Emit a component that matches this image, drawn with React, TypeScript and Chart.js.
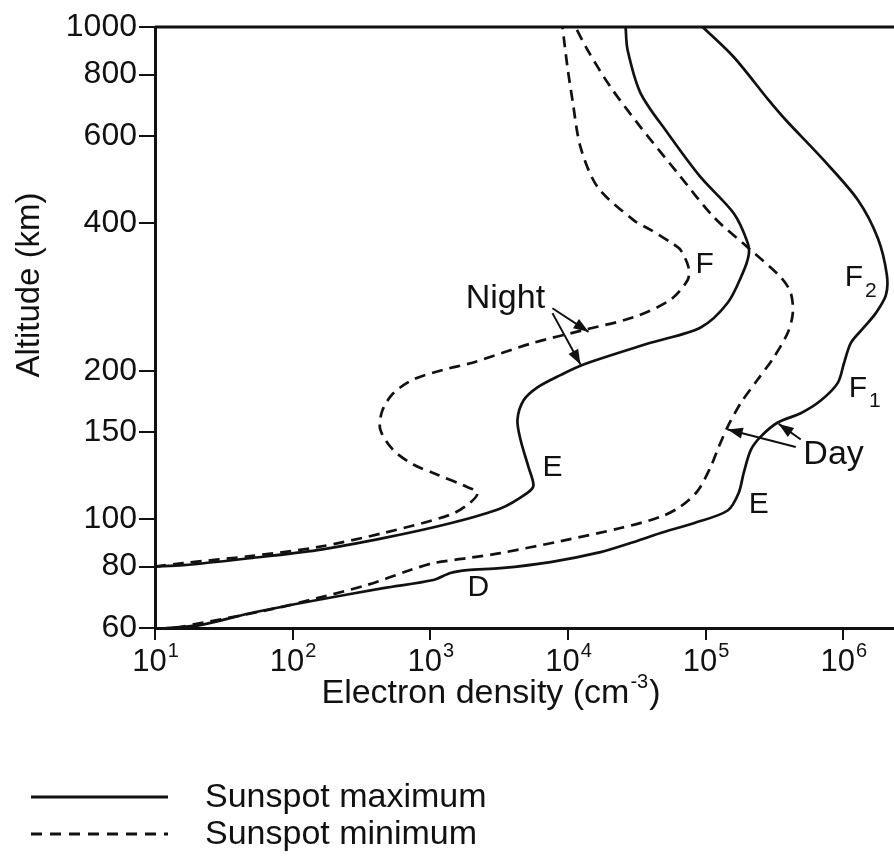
import React, { useEffect, useRef } from "react";
import { Chart, registerables } from "chart.js";

Chart.register(...registerables);

// ---------- data (electron density in cm^-3, altitude in km) ----------
const xTickValues = [10, 100, 1000, 10000, 100000, 1000000];
const xTickExponents = ["1", "2", "3", "4", "5", "6"];
const yTickValues = [60, 80, 100, 150, 200, 400, 600, 800, 1000];

const nightMaxDensity = [10, 16, 49, 151, 455, 1397, 3228, 5075, 5610, 5160, 4517, 4295, 4748, 6000, 8820, 12970, 39800, 92000, 144600, 185900, 205400, 202000, 159900, 92000, 52900, 33650, 27100, 26200];
const nightMaxAltitude = [80, 80.5, 83.2, 86.4, 91.4, 98, 105, 113, 117, 127.5, 145, 159, 174, 185, 196, 206, 228, 245, 275, 316, 344, 364, 418, 495, 609, 734, 898, 1000];

const nightMinDensity = [10, 16, 49, 151, 455, 1397, 1954, 2198, 1738, 1125, 752, 538, 433, 448, 538, 752, 1245, 2055, 5610, 12970, 29950, 55600, 74000, 75200, 65800, 55600, 39800, 29950, 16400, 12330, 10780, 9910, 9120];
const nightMinAltitude = [80, 81.3, 84.0, 87.6, 93.6, 102, 108, 113, 117, 123, 129, 138, 152, 166, 180, 192, 201, 208, 228, 242, 257, 279, 306, 324, 352, 365, 387, 405, 473, 570, 710, 829, 1000];

const dayMaxDensity = [12, 21.2, 49, 151, 455, 1052, 1397, 1857, 3228, 7460, 17240, 28480, 47100, 81800, 144600, 173900, 189000, 212500, 251200, 334000, 490900, 685700, 912000, 1010000, 1135000, 1409000, 1722000, 2038000, 2072000, 1782000, 1275000, 721000, 382000, 287000, 159900, 95100];
const dayMaxAltitude = [60, 60.8, 64.3, 68.4, 72.3, 75.1, 77.6, 78.7, 79.4, 81.7, 85.6, 89.3, 93.6, 98, 104, 113, 124, 138, 147, 157, 164, 174, 189, 207, 228, 245, 262, 285, 313, 372, 445, 536, 647, 710, 869, 1000];

const dayMinDensity = [14, 65, 151, 348, 716, 1052, 1857, 3228, 8820, 24100, 47100, 65800, 87500, 108700, 124400, 144600, 179900, 238800, 312400, 394800, 429400, 415200, 351000, 205400, 114300, 62500, 33650, 20380, 13870, 11340];
const dayMinAltitude = [60, 65.2, 69.0, 73.4, 78.7, 81.3, 83.2, 85.2, 90.1, 95.8, 101, 106, 114, 127.5, 140, 154, 172, 192, 213, 239, 262, 288, 310, 355, 411, 505, 626, 755, 898, 1000];

// annotation labels placed in data coordinates
const labelTexts = ["Night", "F", "E", "E", "D", "Day"];
const labelDensity = [3510, 98400, 7710, 242700, 2234, 850000];
const labelAltitude = [280, 328, 127, 107, 72.3, 135];

const subLabelMain = ["F", "F"];
const subLabelSub = ["2", "1"];
const subLabelDensity = [1192000, 1274000];
const subLabelAltitude = [309, 184];

// arrows: from (density, altitude) to (density, altitude)
const arrowFromDensity = [7710, 7710, 451300, 490900];
const arrowFromAltitude = [268, 262, 140, 145];
const arrowToDensity = [14100, 12330, 144600, 339600];
const arrowToAltitude = [240, 206, 152, 156];

const legendLabels = ["Sunspot maximum", "Sunspot minimum"];

// ---------- styles ----------
const INK = "#111";
const FONT = "'Liberation Sans', Arial, Helvetica, sans-serif";

function toPoints(xs: number[], ys: number[]) {
  return xs.map((x, i) => ({ x, y: ys[i] }));
}

function drawArrow(ctx: CanvasRenderingContext2D, x1: number, y1: number, x2: number, y2: number) {
  ctx.beginPath();
  ctx.moveTo(x1, y1);
  ctx.lineTo(x2, y2);
  ctx.lineWidth = 2;
  ctx.stroke();
  const a = Math.atan2(y2 - y1, x2 - x1);
  const L = 15;
  const W = 5.5;
  const c = Math.cos(a);
  const s = Math.sin(a);
  ctx.beginPath();
  ctx.moveTo(x2, y2);
  ctx.lineTo(x2 - L * c + W * s, y2 - L * s - W * c);
  ctx.lineTo(x2 - L * c - W * s, y2 - L * s + W * c);
  ctx.closePath();
  ctx.fill();
}

const decorPlugin = {
  id: "decor",
  afterDraw(chart: any) {
    const { ctx, chartArea, scales } = chart;
    const xs = scales.x;
    const ys = scales.y;
    ctx.save();
    ctx.fillStyle = INK;
    ctx.strokeStyle = INK;

    // top frame line
    ctx.lineWidth = 3;
    ctx.beginPath();
    ctx.moveTo(chartArea.left, chartArea.top);
    ctx.lineTo(chartArea.right, chartArea.top);
    ctx.stroke();

    // x tick labels with superscripts
    ctx.textBaseline = "alphabetic";
    ctx.textAlign = "left";
    const tickBase = chartArea.bottom + 43;
    xTickValues.forEach((v, i) => {
      const px = xs.getPixelForValue(v);
      ctx.font = `31px ${FONT}`;
      const w1 = ctx.measureText("10").width;
      ctx.font = `20px ${FONT}`;
      const w2 = ctx.measureText(xTickExponents[i]).width;
      const left = px - (w1 + w2) / 2;
      ctx.font = `31px ${FONT}`;
      ctx.fillText("10", left, tickBase);
      ctx.font = `20px ${FONT}`;
      ctx.fillText(xTickExponents[i], left + w1 + 1, tickBase - 14);
    });

    // x axis title
    const t1 = "Electron density (cm";
    const t2 = "-3";
    const t3 = ")";
    ctx.font = `34px ${FONT}`;
    const a1 = ctx.measureText(t1).width;
    const a3 = ctx.measureText(t3).width;
    ctx.font = `20px ${FONT}`;
    const a2 = ctx.measureText(t2).width;
    const cx = 491;
    const tb = 703;
    const left = cx - (a1 + a2 + a3 + 2) / 2;
    ctx.font = `34px ${FONT}`;
    ctx.fillText(t1, left, tb);
    ctx.font = `20px ${FONT}`;
    ctx.fillText(t2, left + a1 + 1, tb - 15);
    ctx.font = `34px ${FONT}`;
    ctx.fillText(t3, left + a1 + a2 + 2, tb);

    // y axis title
    ctx.save();
    ctx.translate(30, 285);
    ctx.rotate(-Math.PI / 2);
    ctx.textAlign = "center";
    ctx.textBaseline = "middle";
    ctx.font = `33px ${FONT}`;
    ctx.fillText("Altitude (km)", 0, 0);
    ctx.restore();

    // annotation labels
    ctx.textAlign = "center";
    ctx.textBaseline = "middle";
    labelTexts.forEach((t, i) => {
      ctx.font = t.length > 1 ? `34px ${FONT}` : `30px ${FONT}`;
      ctx.fillText(t, xs.getPixelForValue(labelDensity[i]), ys.getPixelForValue(labelAltitude[i]));
    });
    subLabelMain.forEach((t, i) => {
      const px = xs.getPixelForValue(subLabelDensity[i]);
      const py = ys.getPixelForValue(subLabelAltitude[i]);
      ctx.font = `30px ${FONT}`;
      ctx.fillText(t, px, py);
      ctx.font = `21px ${FONT}`;
      ctx.fillText(subLabelSub[i], px + 17, py + 13);
    });

    // arrows
    arrowFromDensity.forEach((_, i) => {
      drawArrow(
        ctx,
        xs.getPixelForValue(arrowFromDensity[i]),
        ys.getPixelForValue(arrowFromAltitude[i]),
        xs.getPixelForValue(arrowToDensity[i]),
        ys.getPixelForValue(arrowToAltitude[i])
      );
    });

    // legend
    const legY = [797, 834];
    legendLabels.forEach((t, i) => {
      ctx.lineWidth = 3;
      ctx.setLineDash(i === 0 ? [] : [11, 8]);
      ctx.beginPath();
      ctx.moveTo(31, legY[i]);
      ctx.lineTo(168, legY[i]);
      ctx.stroke();
      ctx.setLineDash([]);
      ctx.textAlign = "left";
      ctx.textBaseline = "middle";
      ctx.font = `34px ${FONT}`;
      ctx.fillText(t, 205, legY[i] + 1);
    });

    ctx.restore();
  },
};

export default function App() {
  const canvasRef = useRef<HTMLCanvasElement | null>(null);

  useEffect(() => {
    const canvas = canvasRef.current;
    if (!canvas) return;
    const line = (xs: number[], ys: number[], dashed: boolean, label: string) => ({
      label,
      data: toPoints(xs, ys),
      showLine: true,
      borderColor: INK,
      borderWidth: 2.7,
      borderDash: dashed ? [11, 7] : [],
      pointRadius: 0,
      tension: 0.3,
      fill: false,
    });
    const chart = new Chart(canvas, {
      type: "scatter",
      data: {
        datasets: [
          line(nightMaxDensity, nightMaxAltitude, false, "Night, sunspot maximum"),
          line(nightMinDensity, nightMinAltitude, true, "Night, sunspot minimum"),
          line(dayMaxDensity, dayMaxAltitude, false, "Day, sunspot maximum"),
          line(dayMinDensity, dayMinAltitude, true, "Day, sunspot minimum"),
        ],
      },
      options: {
        responsive: false,
        animation: false,
        layout: { padding: { left: 0, top: 27, right: 0, bottom: 191 } },
        plugins: { legend: { display: false }, tooltip: { enabled: false } },
        scales: {
          x: {
            type: "logarithmic",
            min: 10,
            max: 3000000,
            afterBuildTicks: (scale: any) => {
              scale.ticks = xTickValues.map((v) => ({ value: v }));
            },
            afterFit: (scale: any) => {
              scale.height = 40;
            },
            border: { display: true, color: INK, width: 3 },
            grid: { display: true, drawOnChartArea: false, drawTicks: true, tickLength: 12, color: INK, lineWidth: 2 },
            ticks: { display: false },
          },
          y: {
            type: "logarithmic",
            min: 60,
            max: 1000,
            afterBuildTicks: (scale: any) => {
              scale.ticks = yTickValues.map((v) => ({ value: v }));
            },
            afterFit: (scale: any) => {
              scale.width = 155;
            },
            border: { display: true, color: INK, width: 3 },
            grid: { display: true, drawOnChartArea: false, drawTicks: true, tickLength: 16, color: INK, lineWidth: 2 },
            ticks: {
              color: INK,
              padding: 2,
              font: { family: FONT, size: 32 },
              callback: (v: any) => String(v),
              autoSkip: false,
            },
          },
        },
      },
      plugins: [decorPlugin],
    } as any);
    return () => chart.destroy();
  }, []);

  return (
    <div
      style={{
        position: "absolute",
        left: 0,
        top: 0,
        width: 894,
        height: 859,
        overflow: "hidden",
        background: "#fff",
      }}
    >
      <canvas ref={canvasRef} width={909} height={859} style={{ display: "block" }} />
    </div>
  );
}
